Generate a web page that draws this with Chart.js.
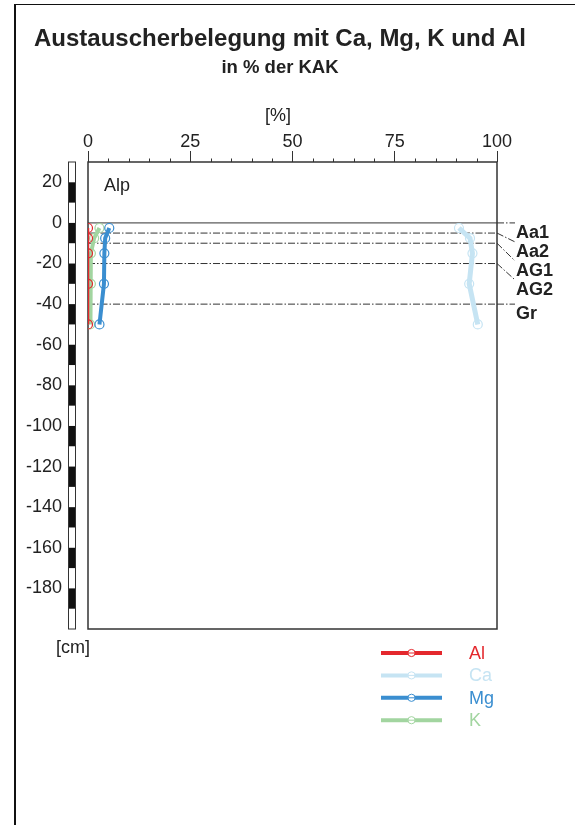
<!DOCTYPE html>
<html><head><meta charset="utf-8">
<script src="https://cdn.jsdelivr.net/npm/chart.js@4.4.1/dist/chart.umd.min.js"></script>
<style>
html,body{margin:0;padding:0;background:#fff;width:575px;height:825px;overflow:hidden}
#frame{position:absolute;left:14px;top:4px;width:600px;height:900px;border-left:2px solid #111;border-top:1.5px solid #111}
#c{position:absolute;left:0;top:0}
</style></head><body>
<div id="frame"></div>
<canvas id="c" width="575" height="825"></canvas>
<script>
// ---- data ----
const depths = [-2.5, -7.5, -15, -30, -50];
const alValues = [0, 0, 0, 0, 0];
const caValues = [90.7, 93.4, 94.0, 93.2, 95.3];
const mgValues = [5.2, 4.2, 4.0, 3.9, 2.8];
const kValues = [2.8, 1.5, 0.7, 0.7, 0.5];
const seriesNames = ['Al', 'Ca', 'Mg', 'K'];
const xTicks = [0, 25, 50, 75, 100];
const yTicks = [20, 0, -20, -40, -60, -80, -100, -120, -140, -160, -180];
const horizonDepths = [0, -5, -10, -20, -40];
const horizonNames = ['Aa1', 'Aa2', 'AG1', 'AG2', 'Gr'];
const topLayerName = 'Alp';

// ---- styles ----
const FONT = "'Liberation Sans', Arial, Helvetica, sans-serif";
const TXT = '#222';
const colors = {Al: '#e4282d', Ca: '#c6e4f3', Mg: '#3a8ed0', K: '#a2d5a0'};
const widths = {Al: 2.5, Ca: 5, Mg: 4, K: 4};
const valuesBySeries = {Al: alValues, Ca: caValues, Mg: mgValues, K: kValues};

const datasets = seriesNames.map(name => ({
  label: name,
  data: depths.map((d, i) => ({x: valuesBySeries[name][i], y: d})),
  showLine: true,
  borderColor: colors[name],
  borderWidth: widths[name],
  pointRadius: 4.5,
  pointHoverRadius: 4.5,
  pointBorderWidth: 1.2,
  pointBorderColor: colors[name],
  pointBackgroundColor: 'rgba(0,0,0,0)',
  tension: 0
}));

const DASH = [7, 2, 1.5, 2];

const decor = {
  id: 'decor',
  beforeDatasetsDraw(chart) {
    const {ctx, chartArea: a, scales: {x, y}} = chart;
    ctx.save();
    // depth ruler
    const rx = 68, rw = 7;
    const yTop = y.getPixelForValue(y.max), yBot = y.getPixelForValue(y.min);
    ctx.fillStyle = '#111';
    for (let v = y.max; v > y.min; v -= 10) {
      if (v % 20 === 0) {
        const t = y.getPixelForValue(v), b = y.getPixelForValue(v - 10);
        ctx.fillRect(rx, t, rw, b - t);
      }
    }
    ctx.strokeStyle = '#333'; ctx.lineWidth = 1;
    ctx.strokeRect(rx + 0.5, yTop, rw, yBot - yTop);
    // minor ticks on x axis
    ctx.beginPath();
    for (let v = 5; v < 100; v += 5) {
      if (v % 25 === 0) continue;
      const px = Math.round(x.getPixelForValue(v)) + 0.5;
      ctx.moveTo(px, a.top); ctx.lineTo(px, a.top - 3.5);
    }
    ctx.stroke();
    // horizon lines + leaders + labels
    const leaderX = 515;
    let prevLabelY = -Infinity;
    ctx.font = 'bold 18px ' + FONT;
    ctx.textBaseline = 'middle';
    ctx.textAlign = 'left';
    horizonDepths.forEach((d, i) => {
      const ly = y.getPixelForValue(d);
      const labelY = Math.max(ly + 10, prevLabelY + 19);
      prevLabelY = labelY;
      ctx.lineWidth = 1; ctx.strokeStyle = '#333';
      ctx.setLineDash(d === 0 ? [] : DASH);
      ctx.beginPath(); ctx.moveTo(a.left, ly); ctx.lineTo(a.right, ly); ctx.stroke();
      ctx.setLineDash(DASH);
      ctx.beginPath(); ctx.moveTo(a.right, ly); ctx.lineTo(leaderX, labelY - 10); ctx.stroke();
      ctx.setLineDash([]);
      ctx.fillStyle = TXT;
      ctx.fillText(horizonNames[i], leaderX + 1, labelY);
    });
    // top layer name
    ctx.font = '18px ' + FONT;
    ctx.fillText(topLayerName, a.left + 16, y.getPixelForValue(18));
    // frame
    ctx.setLineDash([]);
    ctx.lineWidth = 1.5; ctx.strokeStyle = '#333';
    ctx.strokeRect(a.left, a.top, a.right - a.left, a.bottom - a.top);
    ctx.restore();
  },
  afterDraw(chart) {
    const {ctx} = chart;
    ctx.save();
    ctx.fillStyle = TXT;
    ctx.font = '18px ' + FONT;
    ctx.textAlign = 'center'; ctx.textBaseline = 'middle';
    ctx.fillText('[%]', 278, 116);
    ctx.fillText('[cm]', 73, 648);
    // legend
    chart.data.datasets.forEach((ds, i) => {
      const cy = 653 + i * 22.4;
      ctx.strokeStyle = ds.borderColor;
      ctx.lineWidth = 4;
      ctx.beginPath(); ctx.moveTo(381, cy); ctx.lineTo(442, cy); ctx.stroke();
      ctx.lineWidth = 1;
      ctx.beginPath(); ctx.arc(411.5, cy, 3.6, 0, Math.PI * 2); ctx.fillStyle = '#fff'; ctx.fill(); ctx.stroke();
      ctx.beginPath(); ctx.moveTo(407.9, cy); ctx.lineTo(415.1, cy); ctx.stroke();
      ctx.fillStyle = ds.borderColor;
      ctx.textAlign = 'left';
      ctx.font = '18px ' + FONT;
      ctx.fillText(ds.label, 469, cy + 1);
    });
    ctx.restore();
  }
};

new Chart(document.getElementById('c'), {
  type: 'scatter',
  data: {datasets},
  options: {
    responsive: false,
    animation: false,
    events: [],
    layout: {padding: {left: 0, right: 15, top: 0, bottom: 196}},
    plugins: {
      legend: {display: false},
      tooltip: {enabled: false},
      title: {
        display: true,
        text: 'Austauscherbelegung mit Ca, Mg, K und Al',
        color: TXT,
        font: {family: FONT, size: 24, weight: 'bold', lineHeight: 1.2},
        padding: {top: 24.6, bottom: 3.8}
      },
      subtitle: {
        display: true,
        text: 'in % der KAK',
        color: TXT,
        font: {family: FONT, size: 18.5, weight: 'bold', lineHeight: 1.2},
        padding: {top: 0, bottom: 0}
      }
    },
    scales: {
      x: {
        type: 'linear',
        position: 'top',
        min: 0, max: 100,
        afterBuildTicks(s) { s.ticks = xTicks.map(v => ({value: v})); },
        afterFit(s) { s.height = 162 - 79.4; },
        ticks: {color: TXT, font: {family: FONT, size: 18, lineHeight: 1}, padding: 0, maxRotation: 0},
        grid: {display: true, drawOnChartArea: false, drawTicks: true, tickLength: 11, color: '#333', tickColor: '#333', tickWidth: 1},
        border: {display: false}
      },
      y: {
        type: 'linear',
        position: 'left',
        min: -200, max: 30,
        afterBuildTicks(s) { s.ticks = yTicks.map(v => ({value: v})); },
        afterFit(s) { s.width = 88; },
        ticks: {color: TXT, font: {family: FONT, size: 18}, padding: 26},
        grid: {display: false, drawTicks: false, tickLength: 0},
        border: {display: false}
      },
      y2: {
        type: 'linear',
        position: 'right',
        display: true,
        afterFit(s) { s.width = 63; },
        ticks: {display: false},
        grid: {display: false, drawTicks: false},
        border: {display: false}
      }
    }
  },
  plugins: [decor]
});
</script>
</body></html>
